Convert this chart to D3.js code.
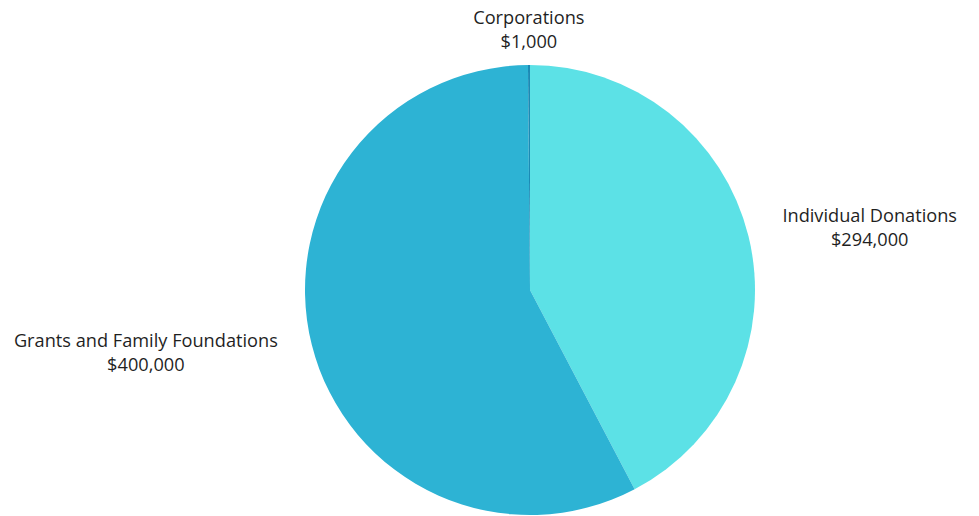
<!DOCTYPE html>
<html>
<head>
<meta charset="utf-8">
<script src="https://cdn.jsdelivr.net/npm/d3@7"></script>
<style>
  body { margin: 0; background: #fff; }
  text { font-family: "Open Sans", sans-serif; font-size: 18.2px; fill: #1f1f1f; }
</style>
</head>
<body>
<div id="chart"></div>
<script>
const WIDTH = 979;
const HEIGHT = 516;
const CENTER = { x: 530, y: 290 };
const RADIUS = 225;
const LABEL_RADIUS = 260;

// data
const categories = ["Individual Donations", "Grants and Family Foundations", "Corporations"];
const amounts = [294000, 400000, 1000];
const colors = ["#5ce1e6", "#2db3d4", "#1b8ab5"];

const data = categories.map((c, i) => ({ name: c, value: amounts[i], color: colors[i] }));

const svg = d3.select("#chart")
  .append("svg")
  .attr("width", WIDTH)
  .attr("height", HEIGHT);

const g = svg.append("g")
  .attr("transform", "translate(" + CENTER.x + "," + CENTER.y + ")");

const pie = d3.pie()
  .sort(null)
  .value(d => d.value);

const arc = d3.arc()
  .innerRadius(0)
  .outerRadius(RADIUS);

const arcs = pie(data);

g.selectAll("path")
  .data(arcs)
  .enter()
  .append("path")
  .attr("d", arc)
  .attr("fill", d => d.data.color);

const fmt = d3.format("$,");

// labels sit just outside the pie, pushed out by their edge
arcs.forEach(function (d) {
  const mid = (d.startAngle + d.endAngle) / 2;
  const px = Math.sin(mid) * LABEL_RADIUS;
  const py = -Math.cos(mid) * LABEL_RADIUS;

  const label = g.append("text")
    .attr("text-anchor", "middle");

  const line1 = label.append("tspan").text(d.data.name);
  const line2 = label.append("tspan").text(fmt(d.data.value));

  const w = Math.max(line1.node().getComputedTextLength(), line2.node().getComputedTextLength());
  let cx = px;
  if (Math.sin(mid) > 0.2) cx = px + w / 2;
  else if (Math.sin(mid) < -0.2) cx = px - w / 2;

  line1.attr("x", cx).attr("y", py - 6);
  line2.attr("x", cx).attr("y", py + 18);
});
</script>
</body>
</html>
